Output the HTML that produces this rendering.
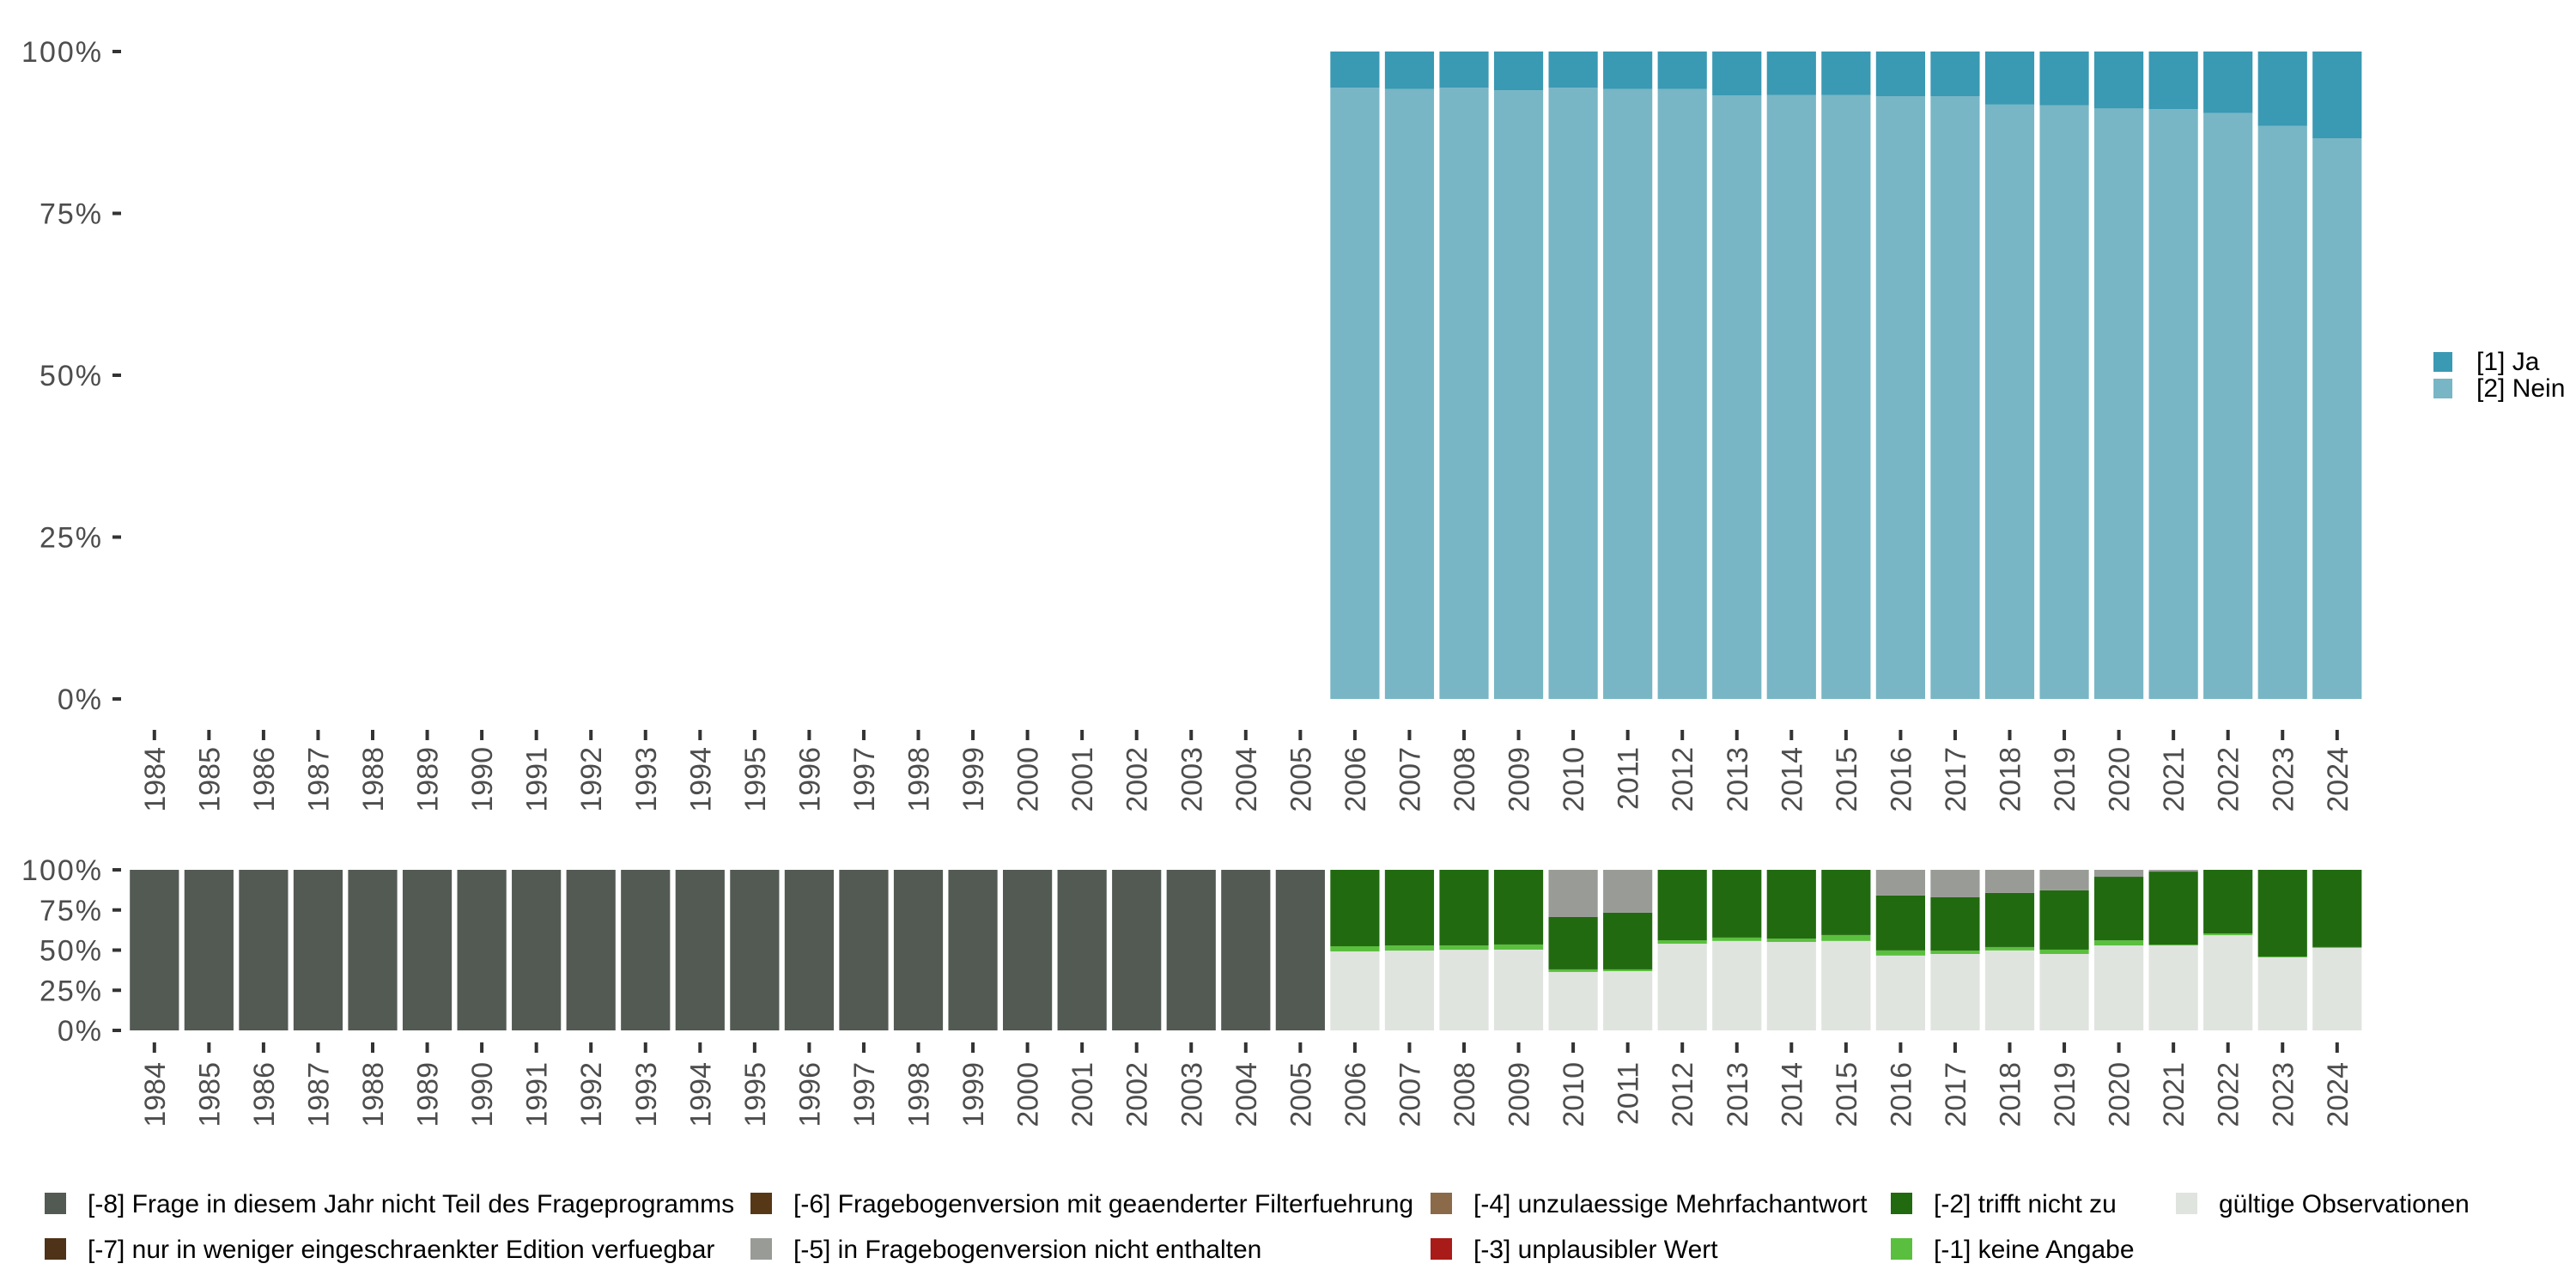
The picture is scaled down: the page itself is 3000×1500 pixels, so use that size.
<!DOCTYPE html>
<html><head><meta charset="utf-8"><style>
html,body{margin:0;padding:0;background:#fff;}
svg{display:block;font-family:"Liberation Sans","DejaVu Sans",sans-serif;}
</style></head><body>
<svg id="c" width="3000" height="1500" viewBox="0 0 3000 1500" xmlns="http://www.w3.org/2000/svg"></svg>
<script>
const years = [];
for (let y = 1984; y <= 2024; y++) years.push(y);
const yearsAsked = [2006,2007,2008,2009,2010,2011,2012,2013,2014,2015,2016,2017,2018,2019,2020,2021,2022,2023,2024];
const jaPct = [5.6,5.8,5.6,6.0,5.6,5.8,5.8,6.8,6.7,6.7,6.9,6.9,8.2,8.3,8.8,8.9,9.5,11.5,13.4];
const notInVersionPct = [0,0,0,0,29.4,26.7,0,0,0,0,16.0,17.1,14.4,12.8,4.3,1.1,0,0,0];
const notApplicablePct = [47.6,47.1,47.1,46.5,32.6,35.3,43.9,42.2,42.8,40.6,34.2,33.2,33.7,36.9,39.6,45.5,39.6,54.0,48.1];
const noAnswerPct = [3.2,3.2,2.7,3.2,1.6,1.1,2.1,2.1,2.1,3.7,3.2,2.1,2.1,2.7,3.2,0.5,1.1,0.5,0.5];
const yTicks = [0,25,50,75,100];
const yTickLabels = ["0%","25%","50%","75%","100%"];

const svg = document.getElementById('c');
const NS = 'http://www.w3.org/2000/svg';
function mk(tag, attrs, parent){const e=document.createElementNS(NS,tag);for(const k in attrs)e.setAttribute(k,attrs[k]);(parent||svg).appendChild(e);return e;}

const x0 = 179.8, pitch = 63.55, bw = 57.2;
function xs(year){return x0 + (year-1984)*pitch;}
const top1 = 60, bot1 = 814, top2 = 1013, bot2 = 1200;
function ys1(p){return bot1 - p/100*(bot1-top1);}
function ys2(p){return bot2 - p/100*(bot2-top2);}

function yAxis(ys, name){
  yTicks.forEach((t,i)=>{
    const y = ys(t);
    const l = mk('text',{x:120,y:y+12,'text-anchor':'end','font-size':34,'letter-spacing':2,fill:'#4d4d4d'});
    l.textContent = yTickLabels[i];
    
    
    const tk = mk('line',{x1:131,x2:141,y1:y,y2:y,stroke:'#333',"stroke-width":4});
    
    
  });
}
function xAxis(tickY, labelY, name){
  years.forEach(yr=>{
    const x = xs(yr);
    const tk = mk('line',{x1:x,x2:x,y1:tickY,y2:tickY+12,stroke:'#333',"stroke-width":4});
    
    
    const t = mk('text',{x:0,y:0,'text-anchor':'end','font-size':34,fill:'#4d4d4d',transform:`translate(${x+12},${labelY}) rotate(-90)`});
    t.textContent = yr;
    
    
  });
}
yAxis(ys1,'top-y-axis');
yAxis(ys2,'bottom-y-axis');
xAxis(850,870,'top-x-axis');
xAxis(1214,1237,'bottom-x-axis');

function rect(x,y1,y2,fill,name){
  const r = mk('rect',{x:x-bw/2,y:Math.min(y1,y2),width:bw,height:Math.abs(y2-y1),fill:fill});
  
  
  return r;
}

yearsAsked.forEach((yr,i)=>{
  const x = xs(yr);
  const nein = 100 - jaPct[i];
  rect(x, ys1(0), ys1(nein), '#78b6c5', 'bar-nein-'+yr);
  rect(x, ys1(nein), ys1(100), '#3a99b3', 'bar-ja-'+yr);
});

years.forEach(yr=>{
  const x = xs(yr);
  const i = yearsAsked.indexOf(yr);
  if (i < 0) { rect(x, ys2(0), ys2(100), '#535a54', 'bar-not-in-program-'+yr); return; }
  const gray = notInVersionPct[i], dg = notApplicablePct[i], lg = noAnswerPct[i];
  const valid = 100 - gray - dg - lg;
  let c = 0;
  rect(x, ys2(c), ys2(c+valid), '#e0e4df', 'bar-valid-'+yr); c += valid;
  rect(x, ys2(c), ys2(c+lg), '#5abf3e', 'bar-no-answer-'+yr); c += lg;
  rect(x, ys2(c), ys2(c+dg), '#226a10', 'bar-not-applicable-'+yr); c += dg;
  if (gray > 0) rect(x, ys2(c), ys2(c+gray), '#999c96', 'bar-not-in-version-'+yr);
});

[["[1] Ja",'#3a99b3',410],["[2] Nein",'#78b6c5',441]].forEach(([t,c,y])=>{
  const g = mk('g',{});
  
  
  mk('rect',{x:2834,y:y,width:22,height:23,fill:c},g);
  const tx = mk('text',{x:2884,y:y+21,'font-size':30,fill:'#000'},g); tx.textContent=t;
});

const legItems = [
 ["[-8] Frage in diesem Jahr nicht Teil des Frageprogramms",'#535a54',52,1389],
 ["[-7] nur in weniger eingeschraenkter Edition verfuegbar",'#4e3318',52,1442],
 ["[-6] Fragebogenversion mit geaenderter Filterfuehrung",'#563816',874,1389],
 ["[-5] in Fragebogenversion nicht enthalten",'#999c96',874,1442],
 ["[-4] unzulaessige Mehrfachantwort",'#8a6a48',1666,1389],
 ["[-3] unplausibler Wert",'#a81b18',1666,1442],
 ["[-2] trifft nicht zu",'#226a10',2202,1389],
 ["[-1] keine Angabe",'#5abf3e',2202,1442],
 ["gültige Observationen",'#e0e4df',2534,1389]
];
legItems.forEach(([t,c,x,y])=>{
  const g = mk('g',{});
  
  
  mk('rect',{x:x,y:y,width:25,height:25,fill:c},g);
  const tx = mk('text',{x:x+50,y:y+23,'font-size':30,fill:'#000'},g); tx.textContent=t;
});
</script>
</body></html>
